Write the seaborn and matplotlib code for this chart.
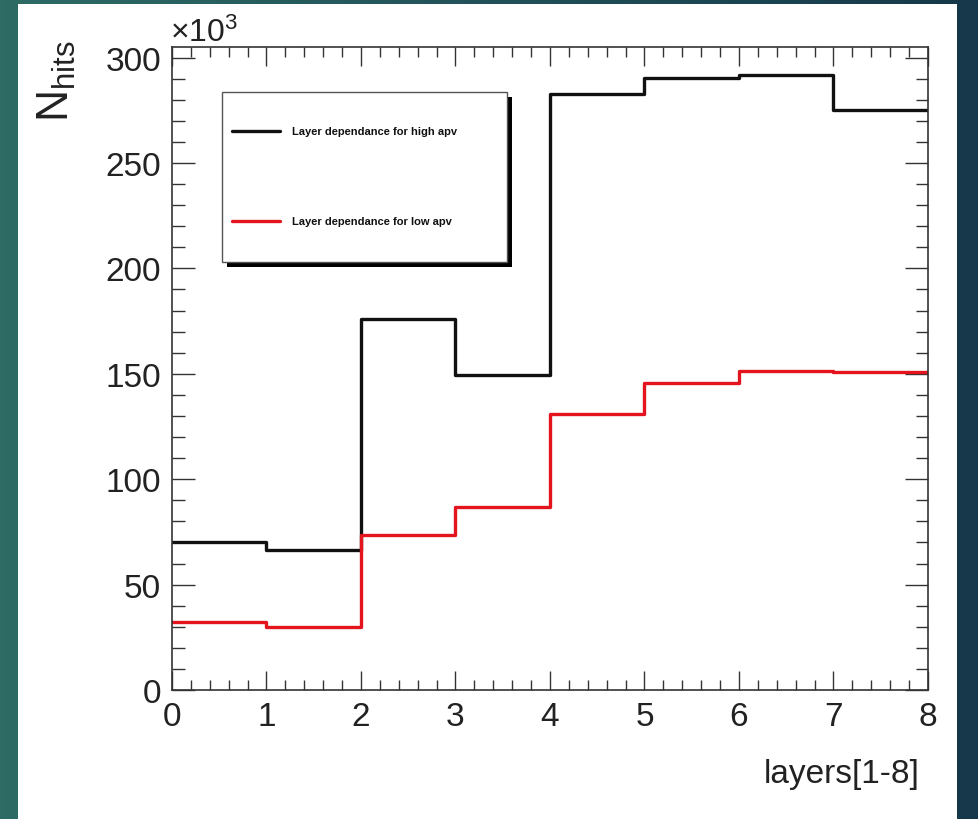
import numpy as np
import pandas as pd
import matplotlib
matplotlib.use("Agg")
import matplotlib.pyplot as plt
import seaborn as sns
from matplotlib.patches import Rectangle
from matplotlib.lines import Line2D
from matplotlib.ticker import MultipleLocator

# ---- data (values in units of 10^3 hits) ----
layers = [0.5, 1.5, 2.5, 3.5, 4.5, 5.5, 6.5, 7.5]          # bin centres, bins [0,1) ... [7,8)
high_apv = [70.4, 66.2, 175.8, 149.3, 282.8, 290.3, 291.8, 275.2]
low_apv = [32.2, 29.8, 73.3, 86.7, 131.1, 145.8, 151.5, 150.9]
series_labels = ["Layer dependance for high apv", "Layer dependance for low apv"]
series_colors = ["#111111", "#E3141E"]
x_ticks = [0, 1, 2, 3, 4, 5, 6, 7, 8]
y_ticks = [0, 50, 100, 150, 200, 250, 300]

df = pd.concat([
    pd.DataFrame({"layer": layers, "nhits": high_apv, "series": series_labels[0]}),
    pd.DataFrame({"layer": layers, "nhits": low_apv, "series": series_labels[1]}),
], ignore_index=True)

sns.set_style("white")
plt.rcParams["font.family"] = ["Liberation Sans", "DejaVu Sans"]
plt.rcParams["mathtext.fontset"] = "custom"
plt.rcParams["mathtext.rm"] = "Liberation Sans"
plt.rcParams["mathtext.default"] = "rm"

W, H = 979, 820
fig = plt.figure(figsize=(W / 100, H / 100), dpi=100)

# background gradient + white panel
bg = fig.add_axes([0, 0, 1, 1], zorder=-10)
grad = np.linspace(0, 1, 256)[None, :, None]
c0 = np.array([46, 107, 101]) / 255.0
c1 = np.array([22, 56, 74]) / 255.0
img = c0 * (1 - grad) + c1 * grad
bg.imshow(img, aspect="auto", extent=[0, 1, 0, 1])
bg.add_patch(Rectangle((18 / W, 0), 939 / W, 815 / H, facecolor="white", edgecolor="none"))
bg.set_axis_off()

left, right, top, bottom = 172, 928, 48, 691
ax = fig.add_axes([left / W, (H - bottom) / H, (right - left) / W, (bottom - top) / H])
ax.set_facecolor("white")

for lab, col in zip(series_labels, series_colors):
    sns.histplot(data=df[df["series"] == lab], x="layer", weights="nhits",
                 bins=8, binrange=(0, 8), element="step", fill=False,
                 color=col, lw=2.4, ax=ax, legend=False)

ax.set_xlim(0, 8)
ax.set_ylim(0, 305)
ax.set_xticks(x_ticks)
ax.set_yticks(y_ticks)
ax.xaxis.set_minor_locator(MultipleLocator(0.2))
ax.yaxis.set_minor_locator(MultipleLocator(10))
ax.tick_params(axis="x", which="major", direction="in", length=13.5, width=1.0,
               top=True, bottom=True, labelsize=24, pad=8, colors="#333333", labelcolor="#222222")
ax.tick_params(axis="x", which="minor", direction="in", length=7, width=1.0,
               top=True, bottom=True, colors="#333333")
ax.tick_params(axis="y", which="major", direction="in", length=16.5, width=1.0,
               left=True, right=True, labelsize=24, pad=8, colors="#333333", labelcolor="#222222")
ax.tick_params(axis="y", which="minor", direction="in", length=9, width=1.0,
               left=True, right=True, colors="#333333")
for s in ax.spines.values():
    s.set_color("#333333")
    s.set_linewidth(1.2)
    s.set_visible(True)

ax.set_xlabel("layers[1-8]", fontsize=24, loc="right", color="#222222")
ax.xaxis.set_label_coords(1.0 - 8 / 756, -0.105)
ax.set_ylabel(r"$\mathrm{N}_{\mathrm{hits}}$", fontsize=32, loc="top", color="#222222")
ax.yaxis.set_label_coords(-0.124, 1.012)
ax.text(-0.003, 1.01, r"$\times10^{3}$", transform=ax.transAxes, ha="left", va="baseline",
        fontsize=23, color="#222222")

# legend box (ROOT style with shadow)
lx0, lx1 = 0.0661, 0.443
ly0, ly1 = 0.666, 0.930
dx, dy = 5 / 756, 5 / 643
ax.add_patch(Rectangle((lx0 + dx, ly0 - dy), lx1 - lx0, ly1 - ly0, transform=ax.transAxes,
                       facecolor="black", edgecolor="none", zorder=5))
ax.add_patch(Rectangle((lx0, ly0), lx1 - lx0, ly1 - ly0, transform=ax.transAxes,
                       facecolor="white", edgecolor="#555555", lw=1.0, zorder=6))
for yy, lab, col in zip([0.869, 0.729], series_labels, series_colors):
    ax.add_line(Line2D([0.0794, 0.1429], [yy, yy], transform=ax.transAxes, color=col,
                       lw=2.4, zorder=7))
    ax.text(0.1587, yy, lab, transform=ax.transAxes, ha="left", va="center",
            fontsize=8, fontweight="bold", color="#111111", zorder=7)

fig.savefig("out.png", dpi=100)
